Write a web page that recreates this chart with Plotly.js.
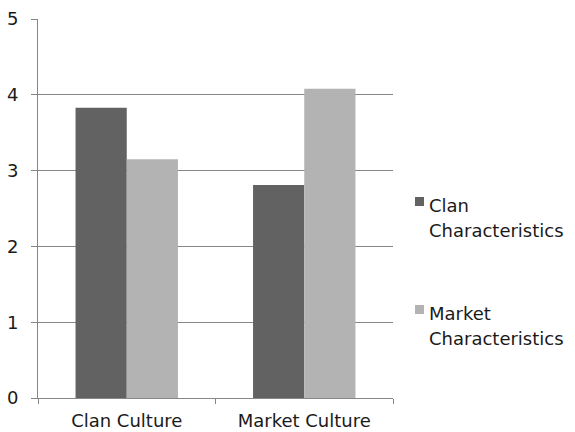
<!DOCTYPE html>
<html>
<head>
<meta charset="utf-8">
<script src="https://cdn.plot.ly/plotly-3.0.1.min.js"></script>
<style>
  html, body { margin: 0; padding: 0; background: #fff; }
  #chart { width: 575px; height: 432px; }
</style>
</head>
<body>
<div id="chart"></div>
<script>
// Culture types on the x axis
const categories = ['Clan Culture', 'Market Culture'];

// Mean scores per characteristic set
const seriesNames = ['Clan Characteristics', 'Market Characteristics'];
const clanValues = [3.83, 2.81];
const marketValues = [3.15, 4.08];

// Legend labels, split over two lines
const legendLines = [['Clan', 'Characteristics'], ['Market', 'Characteristics']];

const colors = ['#626262', '#b3b3b3'];
const axisGray = '#878787';
const font = 'DejaVu Sans, Verdana, sans-serif';

// plot area in pixels
const W = 575, H = 432;
const margin = { l: 38, r: 182, t: 19, b: 34, pad: 0 };
const plotW = W - margin.l - margin.r;
const plotH = H - margin.t - margin.b;
const xp = px => (px - margin.l) / plotW;
const yp = py => (H - margin.b - py) / plotH;

const traces = [clanValues, marketValues].map((vals, i) => ({
  type: 'bar',
  name: seriesNames[i],
  x: categories,
  y: vals,
  marker: { color: colors[i], line: { width: 0 } },
  showlegend: false,
  hoverinfo: 'x+y+name'
}));

// hand-placed legend: swatch + two text lines per series
const shapes = [];
const annotations = [];
const legendTops = [197, 305];
legendTops.forEach((top, i) => {
  shapes.push({
    type: 'rect', xref: 'paper', yref: 'paper',
    x0: xp(415), x1: xp(424), y0: yp(top + 9), y1: yp(top),
    fillcolor: colors[i], line: { width: 0 }
  });
  legendLines[i].forEach((line, j) => {
    annotations.push({
      xref: 'paper', yref: 'paper',
      x: xp(427), y: yp(top + 8 + j * 25),
      xanchor: 'left', yanchor: 'middle',
      text: line, showarrow: false,
      font: { family: font, size: 18, color: '#1a1a1a' }
    });
  });
});

const layout = {
  width: W, height: H,
  margin: margin,
  paper_bgcolor: '#fff',
  plot_bgcolor: '#fff',
  barmode: 'group',
  bargap: 0.423,
  bargroupgap: 0,
  showlegend: false,
  font: { family: font, size: 18, color: '#1a1a1a' },
  xaxis: {
    type: 'category',
    showline: true, linecolor: axisGray, linewidth: 1,
    ticks: 'outside', tickson: 'boundaries', ticklen: 5, tickcolor: axisGray,
    showgrid: false,
    ticklabelstandoff: 6,
    tickfont: { family: font, size: 18, color: '#1a1a1a' },
    fixedrange: true
  },
  yaxis: {
    range: [0, 5], dtick: 1, tick0: 0,
    showline: true, linecolor: axisGray, linewidth: 1,
    ticks: 'outside', ticklen: 6, tickcolor: axisGray,
    showgrid: true, gridcolor: axisGray, gridwidth: 1,
    zeroline: false,
    ticklabelstandoff: 9,
    tickfont: { family: font, size: 18, color: '#1a1a1a' },
    fixedrange: true
  },
  shapes: shapes,
  annotations: annotations
};

Plotly.newPlot('chart', traces, layout, { displayModeBar: false, staticPlot: true });
</script>
</body>
</html>
